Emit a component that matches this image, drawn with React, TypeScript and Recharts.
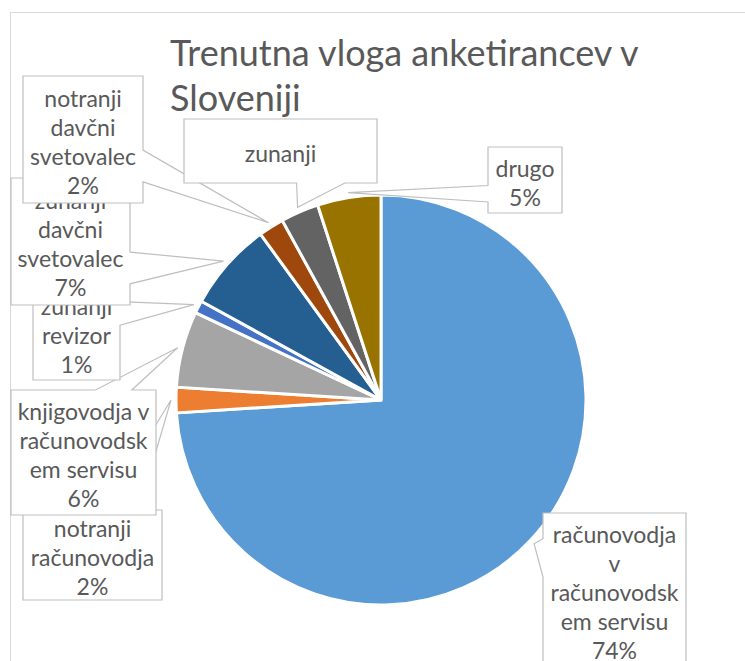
import { PieChart, Pie, Cell } from "recharts";

const roles = [
    "računovodja v računovodskem servisu",
    "notranji računovodja",
    "knjigovodja v računovodskem servisu",
    "zunanji revizor",
    "zunanji davčni svetovalec",
    "notranji davčni svetovalec",
    "zunanji",
    "drugo"
];

const shares = [74, 2, 6, 1, 7, 2, 3, 5];

// label text as it wraps inside the callouts
const labelLines = [
    ["računovodja", "v", "računovodsk", "em servisu"],
    ["notranji", "računovodja"],
    ["knjigovodja v", "računovodsk", "em servisu"],
    ["zunanji", "revizor"],
    ["zunanji", "davčni", "svetovalec"],
    ["notranji", "davčni", "svetovalec"],
    ["zunanji"],
    ["drugo"]
];

// the "zunanji" callout shows no percentage
const showShare = [true, true, true, true, true, true, false, true];

const sliceColors = ["#5B9BD5", "#ED7D31", "#A5A5A5", "#4472C4", "#255E91", "#9E480E", "#636363", "#997300"];

// callout boxes: x, y, width, height
const calloutBoxes = [
    [543, 513, 143, 154],
    [23, 510, 139, 90],
    [11, 390, 145, 125],
    [33, 286, 87, 94],
    [11, 178, 119, 127],
    [23, 76, 120, 127],
    [184, 119, 193, 64],
    [488, 147, 74, 66]
];

const chartData = roles.map((name, i) => ({ name, value: shares[i] }));

// rectangle with a wedge pointing at (tx, ty), like Excel's data callout
function calloutPath(bx: number, by: number, w: number, h: number, tx: number, ty: number) {
    const l = bx, r = bx + w, t = by, b = by + h;
    const dx = tx - (bx + w / 2);
    const dy = ty - (by + h / 2);
    const dq = (dx * h) / w;
    if (Math.abs(dy) > Math.abs(dq)) {
        const x1 = bx + (w * (dx > 0 ? 7 : 2)) / 12;
        const x2 = bx + (w * (dx > 0 ? 10 : 5)) / 12;
        if (dy < 0) return `M${l},${t}L${x1},${t}L${tx},${ty}L${x2},${t}L${r},${t}L${r},${b}L${l},${b}Z`;
        return `M${l},${t}L${r},${t}L${r},${b}L${x2},${b}L${tx},${ty}L${x1},${b}L${l},${b}Z`;
    }
    const y1 = by + (h * (dy > 0 ? 7 : 2)) / 12;
    const y2 = by + (h * (dy > 0 ? 10 : 5)) / 12;
    if (dx < 0) return `M${l},${t}L${r},${t}L${r},${b}L${l},${b}L${l},${y2}L${tx},${ty}L${l},${y1}Z`;
    return `M${l},${t}L${r},${t}L${r},${y1}L${tx},${ty}L${r},${y2}L${r},${b}L${l},${b}Z`;
}

const renderCallout = (props: any) => {
    const { cx, cy, midAngle, outerRadius, index, value } = props;
    const rad = Math.PI / 180;
    const tipR = outerRadius + 5;
    const tx = cx + tipR * Math.cos(-midAngle * rad);
    const ty = cy + tipR * Math.sin(-midAngle * rad);
    const [bx, by, w, h] = calloutBoxes[index];
    const lines = showShare[index] ? [...labelLines[index], `${value}%`] : labelLines[index];
    const midY = by + h / 2 + 2;
    return (
        <g key={`callout-${index}`}>
            <path d={calloutPath(bx, by, w, h, tx, ty)} fill="#fff" stroke="#BFBFBF" strokeWidth={1.2} />
            <text textAnchor="middle" fill="#595959" fontSize={23} fontFamily="Lato, 'Open Sans', sans-serif">
                {lines.map((ln, i) => (
                    <tspan key={i} x={bx + w / 2} y={midY + (i - (lines.length - 1) / 2) * 29} dominantBaseline="central">
                        {ln}
                    </tspan>
                ))}
            </text>
        </g>
    );
};

export default function App() {
    return (
        <div style={{ position: "fixed", left: 0, top: 0, width: 745, height: 661, overflow: "hidden", background: "#fff" }}>
            {/* chart area frame, only its top and left edges are in view */}
            <div style={{ position: "absolute", left: 10, top: 12, width: 800, height: 700, border: "1px solid #D9D9D9" }} />
            <div
                style={{
                    position: "absolute",
                    left: 170,
                    top: 30,
                    fontFamily: "Lato, 'Open Sans', sans-serif",
                    fontWeight: 400,
                    fontSize: 36,
                    lineHeight: "45px",
                    color: "#595959",
                    whiteSpace: "pre"
                }}
            >
                {"Trenutna vloga anketirancev v\nSloveniji"}
            </div>
            <div style={{ position: "absolute", left: 0, top: 0 }}>
                <PieChart width={745} height={661} margin={{ top: 0, right: 0, bottom: 0, left: 0 }}>
                    <Pie
                        data={chartData}
                        dataKey="value"
                        nameKey="name"
                        cx={381}
                        cy={400}
                        outerRadius={205}
                        startAngle={90}
                        endAngle={-270}
                        stroke="#fff"
                        strokeWidth={3}
                        labelLine={false}
                        label={renderCallout}
                        isAnimationActive={false}
                    >
                        {chartData.map((d, i) => (
                            <Cell key={d.name} fill={sliceColors[i]} />
                        ))}
                    </Pie>
                </PieChart>
            </div>
        </div>
    );
}
